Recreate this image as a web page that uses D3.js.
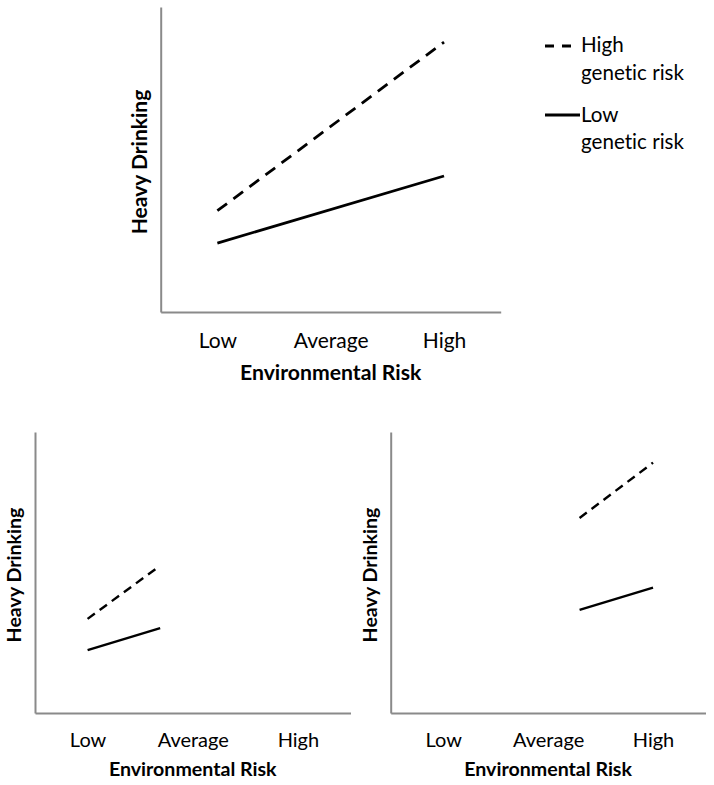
<!DOCTYPE html>
<html>
<head>
<meta charset="utf-8">
<script src="https://cdn.jsdelivr.net/npm/d3@7"></script>
<style>
  html, body { margin: 0; padding: 0; background: #fff; }
  svg { display: block; }
  text { font-family: Lato, "Open Sans", sans-serif; fill: #000; font-variant-ligatures: none; font-feature-settings: "liga" 0; }
</style>
</head>
<body>
<svg id="chart" width="714" height="785"></svg>
<script>
// ---- data ----
const categories = ["Low", "Average", "High"];
const tickIndex = [0, 1, 2];
const xTitle = "Environmental Risk";
const yTitle = "Heavy Drinking";
const legendHigh = ["High", "genetic risk"];
const legendLow = ["Low", "genetic risk"];

// top panel (full range)
const topHighX = [0, 2];
const topHighY = [3.32, 8.85];
const topLowX = [0, 2];
const topLowY = [2.26, 4.46];
// bottom-left panel
const leftHighX = [0, 0.66];
const leftHighY = [3.35, 5.16];
const leftLowX = [0, 0.69];
const leftLowY = [2.24, 3.02];
// bottom-right panel
const rightHighX = [1.30, 2];
const rightHighY = [6.94, 8.91];
const rightLowX = [1.30, 2];
const rightLowY = [3.67, 4.46];

const svg = d3.select("#chart");
const axisColor = "#8a8a8a";

function drawPanel(p) {
  const x = d3.scaleLinear().domain([-0.5, 2.5]).range([p.left, p.right]);
  const y = d3.scaleLinear().domain([0, 10]).range([p.bottom, p.top]);
  const g = svg.append("g");

  // x axis
  const xa = g.append("g")
    .attr("transform", `translate(0,${p.bottom})`)
    .call(d3.axisBottom(x).tickValues(tickIndex)
      .tickFormat(i => categories[i]).tickSize(0).tickSizeOuter(0));
  xa.select(".domain").attr("stroke", axisColor).attr("stroke-width", 2);
  xa.selectAll("text")
    .attr("dy", 0).attr("y", p.tickOffset)
    .style("font-family", "Lato, 'Open Sans', sans-serif")
    .style("font-size", p.tickFont + "px").attr("fill", "#000");

  // y axis (no ticks)
  const ya = g.append("g")
    .attr("transform", `translate(${p.left},0)`)
    .call(d3.axisLeft(y).tickValues([]).tickSizeOuter(0));
  ya.select(".domain").attr("stroke", axisColor).attr("stroke-width", 2);

  // titles
  g.append("text")
    .attr("x", x(1)).attr("y", p.bottom + p.titleOffset)
    .attr("text-anchor", "middle")
    .style("font-weight", "bold").style("font-size", p.titleFont + "px")
    .text(xTitle);
  g.append("text")
    .attr("transform", `translate(${p.yTitleX},${p.yTitleY}) rotate(-90)`)
    .attr("text-anchor", "middle")
    .style("font-weight", "bold").style("font-size", p.yFont + "px")
    .text(yTitle);

  const line = d3.line().x(d => x(d[0])).y(d => y(d[1]));
  g.append("path")
    .datum(d3.zip(p.highX, p.highY))
    .attr("d", line).attr("fill", "none").attr("stroke", "#000")
    .attr("stroke-width", p.lineW).attr("stroke-dasharray", p.dash);
  g.append("path")
    .datum(d3.zip(p.lowX, p.lowY))
    .attr("d", line).attr("fill", "none").attr("stroke", "#000")
    .attr("stroke-width", p.lineW);
}

drawPanel({
  left: 160.7, right: 500.7, top: 7, bottom: 312,
  tickOffset: 36, titleOffset: 68, tickFont: 21, titleFont: 21.2, yFont: 21,
  yTitleX: 147, yTitleY: 162, lineW: 2.8, dash: "12,8",
  highX: topHighX, highY: topHighY, lowX: topLowX, lowY: topLowY
});
drawPanel({
  left: 35, right: 350.5, top: 432, bottom: 713,
  tickOffset: 34, titleOffset: 63, tickFont: 20, titleFont: 19.6, yFont: 19.6,
  yTitleX: 21, yTitleY: 575, lineW: 2.4, dash: "9,6",
  highX: leftHighX, highY: leftHighY, lowX: leftLowX, lowY: leftLowY
});
drawPanel({
  left: 390.7, right: 705.5, top: 432, bottom: 713,
  tickOffset: 34, titleOffset: 63, tickFont: 20, titleFont: 19.6, yFont: 19.6,
  yTitleX: 377, yTitleY: 575, lineW: 2.4, dash: "9,6",
  highX: rightHighX, highY: rightHighY, lowX: rightLowX, lowY: rightLowY
});

// legend
const lg = svg.append("g");
lg.append("line").attr("x1", 545).attr("x2", 571).attr("y1", 46).attr("y2", 46)
  .attr("stroke", "#000").attr("stroke-width", 2.8).attr("stroke-dasharray", "9,8");
lg.append("line").attr("x1", 545).attr("x2", 580).attr("y1", 115).attr("y2", 115)
  .attr("stroke", "#000").attr("stroke-width", 2.8);
const legendRows = [
  { t: legendHigh[0], y: 52 }, { t: legendHigh[1], y: 80 },
  { t: legendLow[0], y: 122 }, { t: legendLow[1], y: 149 }
];
lg.selectAll("text.leg").data(legendRows).join("text")
  .attr("class", "leg").attr("x", 581).attr("y", d => d.y)
  .style("font-size", "20.6px").text(d => d.t);
</script>
</body>
</html>
